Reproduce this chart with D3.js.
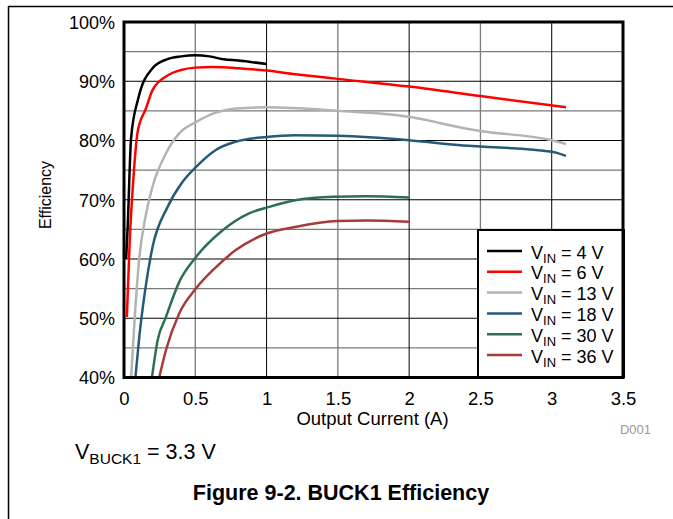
<!DOCTYPE html>
<html>
<head>
<meta charset="utf-8">
<script src="https://cdn.jsdelivr.net/npm/d3@7"></script>
<style>
  html, body { margin: 0; padding: 0; background: #fff; }
  svg { display: block; }
  text { font-family: Arial, "Liberation Sans", Helvetica, sans-serif; fill: #000; }
</style>
</head>
<body>
<svg id="chart" width="673" height="519"></svg>
<script>
// ---- Data ----
const seriesNames = ["4 V", "6 V", "13 V", "18 V", "30 V", "36 V"];
const seriesColors = ["#000000", "#ff0000", "#b3b3b3", "#255b78", "#2b7150", "#a53b3b"];

const currentV4  = [0.015, 0.025, 0.05, 0.1, 0.2, 0.3, 0.4, 0.5, 0.6, 0.7, 0.8, 1.0];
const effV4      = [60, 65, 80.5, 87.1, 92.2, 93.7, 94.2, 94.4, 94.2, 93.7, 93.5, 92.9];

const currentV6  = [0.02, 0.04, 0.065, 0.096, 0.154, 0.2, 0.3, 0.4, 0.5, 0.62, 0.8, 1.0, 1.2, 1.5, 2.0, 2.5, 3.1];
const effV6      = [50.2, 63, 73.3, 81.5, 85.4, 88.5, 90.9, 91.9, 92.3, 92.4, 92.2, 91.8, 91.2, 90.4, 89.1, 87.5, 85.6];

const currentV13 = [0.05, 0.075, 0.107, 0.15, 0.2, 0.294, 0.387, 0.504, 0.644, 0.784, 1.0, 1.5, 2.0, 2.13, 2.36, 2.5, 3.0, 3.1];
const effV13     = [40, 50, 60.1, 67, 72.2, 77.8, 81.2, 83.1, 84.7, 85.4, 85.6, 85.0, 84.0, 83.4, 82.2, 81.6, 80.05, 79.4];

const currentV18 = [0.08, 0.107, 0.15, 0.2, 0.306, 0.41, 0.504, 0.644, 0.784, 1.0, 1.2, 1.5, 2.0, 2.36, 2.5, 3.0, 3.1];
const effV18     = [40, 46.8, 55, 62.0, 68.8, 73.0, 75.5, 78.4, 79.8, 80.6, 80.9, 80.8, 80.05, 79.2, 79.0, 78.1, 77.4];

const currentV30 = [0.196, 0.236, 0.294, 0.387, 0.504, 0.69, 0.877, 1.02, 1.2, 1.47, 1.7, 2.0];
const effV30     = [40, 46.3, 50.2, 56.1, 60.3, 64.8, 67.7, 68.8, 69.9, 70.5, 70.6, 70.4];

const currentV36 = [0.247, 0.294, 0.387, 0.504, 0.644, 0.784, 1.0, 1.2, 1.5, 1.7, 2.0];
const effV36     = [40, 44.6, 50.8, 55.0, 58.6, 61.5, 64.3, 65.4, 66.4, 66.5, 66.3];

const xTicks = [0, 0.5, 1, 1.5, 2, 2.5, 3, 3.5];
const xTickLabels = ["0", "0.5", "1", "1.5", "2", "2.5", "3", "3.5"];
const yTicks = [40, 50, 60, 70, 80, 90, 100];
const yTickLabels = ["40%", "50%", "60%", "70%", "80%", "90%", "100%"];
const yMinorGrid = [45, 55, 65, 75, 85, 95];
const xMinorGrid = [0.5, 1.5, 2.5];
const xMajorGrid = [1, 2, 3];
const yMajorGrid = [50, 60, 70, 80, 90];

const xTitle = "Output Current (A)";
const yTitle = "Efficiency";

// ---- Build ----
const currents = [currentV4, currentV6, currentV13, currentV18, currentV30, currentV36];
const effs = [effV4, effV6, effV13, effV18, effV30, effV36];
const series = seriesNames.map((n, i) => ({
  name: n, color: seriesColors[i],
  pts: currents[i].map((c, j) => [c, effs[i][j]])
}));

const svg = d3.select("#chart");
const L = 124, R = 623, T = 22, B = 377.5;
const x = d3.scaleLinear().domain([0, 3.5]).range([L, R]);
const y = d3.scaleLinear().domain([40, 100]).range([B, T]);

// outer figure border
svg.append("line").attr("x1", 8).attr("x2", 673).attr("y1", 6.5).attr("y2", 6.5)
  .attr("stroke", "#000").attr("stroke-width", 1.5);
svg.append("line").attr("x1", 8.5).attr("x2", 8.5).attr("y1", 6).attr("y2", 519)
  .attr("stroke", "#000").attr("stroke-width", 1.5);

// gridlines
const grid = svg.append("g");
grid.selectAll(".vmin").data(xMinorGrid).join("line")
  .attr("x1", d => x(d)).attr("x2", d => x(d)).attr("y1", T).attr("y2", B)
  .attr("stroke", "#7a7a7a").attr("stroke-width", 1.3);
grid.selectAll(".hmin").data(yMinorGrid).join("line")
  .attr("y1", d => y(d)).attr("y2", d => y(d)).attr("x1", L).attr("x2", R)
  .attr("stroke", "#7a7a7a").attr("stroke-width", 1.3);
grid.selectAll(".vmaj").data(xMajorGrid).join("line")
  .attr("x1", d => x(d)).attr("x2", d => x(d)).attr("y1", T).attr("y2", B)
  .attr("stroke", "#000").attr("stroke-width", 1);
grid.selectAll(".hmaj").data(yMajorGrid).join("line")
  .attr("y1", d => y(d)).attr("y2", d => y(d)).attr("x1", L).attr("x2", R)
  .attr("stroke", "#000").attr("stroke-width", 1);

// clip
svg.append("clipPath").attr("id", "clip").append("rect")
  .attr("x", L).attr("y", T).attr("width", R - L).attr("height", B - T);

const line = d3.line().x(d => x(d[0])).y(d => y(d[1])).curve(d3.curveMonotoneX);
svg.append("g").attr("clip-path", "url(#clip)")
  .selectAll("path").data(series).join("path")
  .attr("d", d => line(d.pts))
  .attr("fill", "none").attr("stroke", d => d.color)
  .attr("stroke-width", 2.5).attr("stroke-linejoin", "round");

// axes tick labels via d3 axes
const xAxis = d3.axisBottom(x).tickValues(xTicks).tickSize(0).tickPadding(0)
  .tickFormat((d, i) => xTickLabels[i]);
const gx = svg.append("g").attr("transform", `translate(0,${B})`).call(xAxis);
gx.select(".domain").remove();
gx.selectAll("text").attr("font-size", 18.5).attr("font-family", "Arial, 'Liberation Sans', sans-serif")
  .attr("fill", "#000").attr("y", 27.5).attr("dy", null);

const yAxis = d3.axisLeft(y).tickValues(yTicks).tickSize(0).tickPadding(0)
  .tickFormat((d, i) => yTickLabels[i]);
const gy = svg.append("g").attr("transform", `translate(115,0)`).call(yAxis);
gy.select(".domain").remove();
gy.selectAll("text").attr("font-size", 18).attr("font-family", "Arial, 'Liberation Sans', sans-serif")
  .attr("fill", "#000").attr("x", 0).attr("dy", "0.36em");

// axis titles
svg.append("text").attr("x", (L + R) / 2 - 1).attr("y", 425).attr("text-anchor", "middle")
  .attr("font-size", 18.5).text(xTitle);
svg.append("text").attr("transform", "translate(51,195) rotate(-90)").attr("text-anchor", "middle")
  .attr("font-size", 16).text(yTitle);

svg.append("text").attr("x", 651).attr("y", 434).attr("text-anchor", "end")
  .attr("font-size", 13).style("fill", "#999").text("D001");

// legend
const lg = svg.append("g");
lg.append("rect").attr("x", 478).attr("y", 230).attr("width", 146).attr("height", 147)
  .attr("fill", "#fff").attr("stroke", "#000").attr("stroke-width", 2);
const rows = lg.selectAll(".row").data(series).join("g")
  .attr("transform", (d, i) => `translate(0,${251 + i * 20.8})`);
rows.append("line").attr("x1", 487).attr("x2", 522).attr("y1", 0).attr("y2", 0)
  .attr("stroke", d => d.color).attr("stroke-width", 2.5);
const lt = rows.append("text").attr("x", 531).attr("y", 7.5).attr("font-size", 18);
lt.append("tspan").text("V");
lt.append("tspan").attr("font-size", 13).attr("dy", 4).text("IN");
lt.append("tspan").attr("dy", -4).text(d => " = " + d.name);

// plot frame
svg.append("rect").attr("x", L).attr("y", T).attr("width", R - L).attr("height", B - T)
  .attr("fill", "none").attr("stroke", "#000").attr("stroke-width", 3);

// footnote & caption
const fn = svg.append("text").attr("x", 75).attr("y", 459).attr("font-size", 21.5);
fn.append("tspan").text("V");
fn.append("tspan").attr("font-size", 15.5).attr("dy", 4.5).text("BUCK1");
fn.append("tspan").attr("dy", -4.5).text(" = 3.3 V");

svg.append("text").attr("x", 341).attr("y", 500).attr("text-anchor", "middle")
  .attr("font-size", 21.5).attr("font-weight", "bold").text("Figure 9-2. BUCK1 Efficiency");
</script>
</body>
</html>
